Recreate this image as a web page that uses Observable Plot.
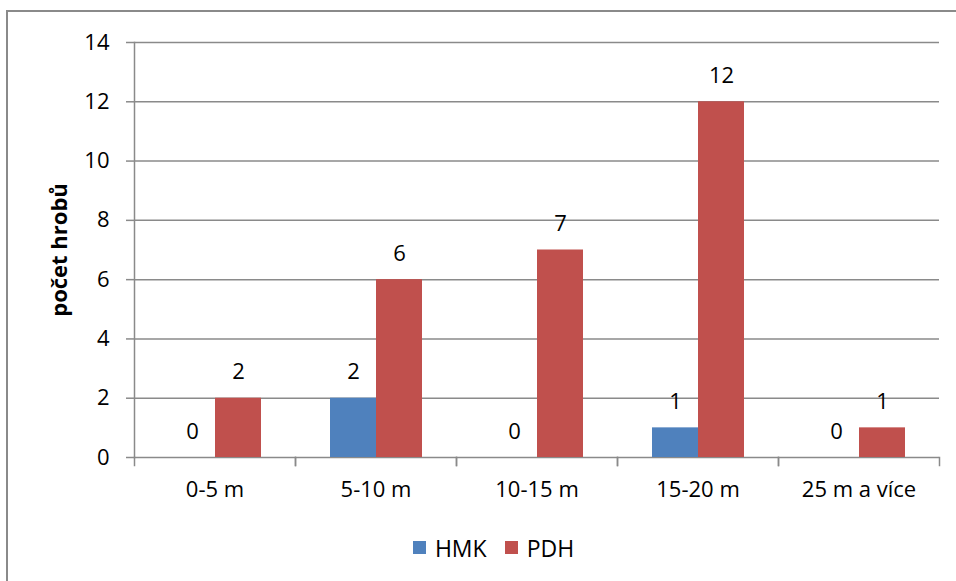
<!DOCTYPE html>
<html><head><meta charset="utf-8">
<script src="https://cdn.jsdelivr.net/npm/d3@7"></script>
<script src="https://cdn.jsdelivr.net/npm/@observablehq/plot@0.6"></script>
<style>
html,body{margin:0;padding:0;background:#fff;}
#chart{position:relative;width:956px;height:581px;overflow:hidden;font-family:"Open Sans",sans-serif;}
#border{position:absolute;left:6px;top:10px;width:1000px;height:700px;border-left:2px solid #8a8a8a;border-top:2px solid #8a8a8a;pointer-events:none;}
#plot{position:absolute;left:0;top:0;}
#legend{position:absolute;left:0;top:531px;width:987px;display:flex;justify-content:center;}
#legend [class$="-swatch"]{margin-right:18px !important;}
#legend [class$="-swatch"]:last-child{margin-right:0 !important;}
#legend [class$="-swatch"] > svg{margin-right:9px !important;}
#plot g[aria-label="y-axis label"] text{font-weight:bold;}
</style></head><body>
<div id="chart"><div id="plot"></div><div id="legend"></div><div id="border"></div></div>
<script>
const categories = ["0-5 m","5-10 m","10-15 m","15-20 m","25 m a více"];
const series = ["HMK","PDH"];
const hmkValues = [0,2,0,1,0];
const pdhValues = [2,6,7,12,1];
const yTicks = [0,2,4,6,8,10,12,14];
const colors = ["#4F81BD","#C0504D"];
const yLabel = "počet hrobů";

const rows = categories.flatMap((c,i)=>[
  {category:c, series:series[0], value:hmkValues[i]},
  {category:c, series:series[1], value:pdhValues[i]}
]);
const grid = "#8a8a8a";
const font = '"Open Sans", sans-serif';
const chart = Plot.plot({
  width:956, height:530, marginLeft:133, marginRight:16, marginTop:42, marginBottom:73,
  style:{fontFamily:font, fontSize:"22px", color:"#000", background:"transparent", overflow:"visible"},
  fx:{domain:categories, padding:0, label:null},
  x:{domain:series, paddingInner:0, paddingOuter:0.75, axis:null},
  y:{domain:[0,14]},
  color:{domain:series, range:colors},
  marks:[
    Plot.gridY(yTicks,{stroke:grid, strokeOpacity:1, strokeWidth:1.5}),
    Plot.frame({anchor:"left", stroke:grid, strokeOpacity:1, strokeWidth:1.5, insetTop:415, insetBottom:-8}),
    Plot.frame({anchor:"right", stroke:grid, strokeOpacity:1, strokeWidth:1.5, insetTop:415, insetBottom:-8}),
    Plot.frame({anchor:"left", stroke:grid, strokeOpacity:1, strokeWidth:1.5, fx: () => categories[0]}),
    Plot.barY(rows,{fx:"category", x:"series", y:"value", fill:"series"}),
    Plot.text(rows,{fx:"category", x:"series", y:"value", text: d=>String(d.value), dy:-26, fontSize:22, fill:"#000"}),
    Plot.axisY({ticks:yTicks, tickSize:8, tickPadding:17, stroke:grid, strokeOpacity:1, strokeWidth:1.5, label:yLabel, labelAnchor:"center", labelArrow:"none", labelOffset:83, fontSize:22}),
    Plot.axisFx({anchor:"bottom", tickSize:0, tickPadding:24, fontSize:22, label:null})
  ]
});
document.getElementById("plot").appendChild(chart);
const legend = Plot.legend({color:{domain:series, range:colors}, legend:"swatches", swatchSize:13, style:{fontFamily:font, fontSize:"23px", color:"#000"}});
document.getElementById("legend").appendChild(legend);
</script>
</body></html>
